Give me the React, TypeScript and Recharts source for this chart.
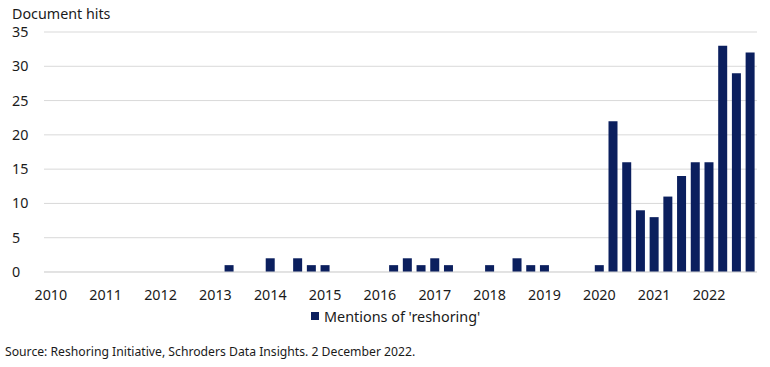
import React from 'react';
import { BarChart, Bar, XAxis, YAxis, CartesianGrid, Legend } from 'recharts';

// quarterly document hits, 2010 Q1 .. 2022 Q4
const years = ['2010', '2011', '2012', '2013', '2014', '2015', '2016', '2017', '2018', '2019', '2020', '2021', '2022'];
const quarterNames = ['Q1', 'Q2', 'Q3', 'Q4'];
const hits = [
  0, 0, 0, 0,
  0, 0, 0, 0,
  0, 0, 0, 0,
  0, 1, 0, 0,
  2, 0, 2, 1,
  1, 0, 0, 0,
  0, 1, 2, 1,
  2, 1, 0, 0,
  1, 0, 2, 1,
  1, 0, 0, 0,
  1, 22, 16, 9,
  8, 11, 14, 16,
  16, 33, 29, 32,
];
const yTicks = [0, 5, 10, 15, 20, 25, 30, 35];

const seriesName = "Mentions of 'reshoring'";
const navy = '#0b1f5e';
const font = "'Noto Sans', 'Open Sans', sans-serif";

const chartData = years.flatMap((y, i) =>
  quarterNames.map((q, j) => ({ period: `${y} ${q}`, hits: hits[i * 4 + j] }))
);

const YTick = (props: any) => (
  <text x={12} y={props.y} dy={5} fill="#1a1a1a" fontSize={14.3} fontFamily={font} textAnchor="start">
    {props.payload.value}
  </text>
);

const LegendContent = () => (
  <div style={{ display: 'flex', alignItems: 'center', fontFamily: font, fontSize: 14.4, color: '#1a1a1a', height: 18 }}>
    <span style={{ width: 8, height: 8, background: navy, display: 'inline-block', marginRight: 5 }} />
    {seriesName}
  </div>
);

export default function App() {
  return (
    <div style={{ position: 'absolute', left: 0, top: 0, width: 770, height: 367, background: '#fff', fontFamily: font }}>
      <div style={{ position: 'absolute', left: 12, top: 4, fontSize: 14.3, color: '#1a1a1a' }}>Document hits</div>
      <BarChart
        width={770}
        height={367}
        data={chartData}
        margin={{ top: 32, right: 13, left: 12, bottom: 47 }}
        barCategoryGap="17%"
      >
        <CartesianGrid vertical={false} stroke="#d9d9d9" />
        <XAxis
          dataKey="period"
          interval={0}
          axisLine={{ stroke: '#d9d9d9' }}
          tickLine={false}
          tickMargin={12}
          height={30}
          tick={{ fill: '#1a1a1a', fontSize: 14.3, fontFamily: font }}
          tickFormatter={(v: string) => (v.endsWith('Q1') ? v.slice(0, 4) : '')}
        />
        <YAxis
          width={32}
          domain={[0, 35]}
          ticks={yTicks}
          axisLine={false}
          tickLine={false}
          tick={<YTick />}
        />
        <Legend
          content={<LegendContent />}
          wrapperStyle={{ position: 'absolute', left: 311, top: 307, width: 'auto' }}
        />
        <Bar dataKey="hits" name={seriesName} fill={navy} isAnimationActive={false} />
      </BarChart>
      <div style={{ position: 'absolute', left: 5, top: 343, fontSize: 12.2, color: '#1a1a1a' }}>
        Source: Reshoring Initiative, Schroders Data Insights. 2 December 2022.
      </div>
    </div>
  );
}
